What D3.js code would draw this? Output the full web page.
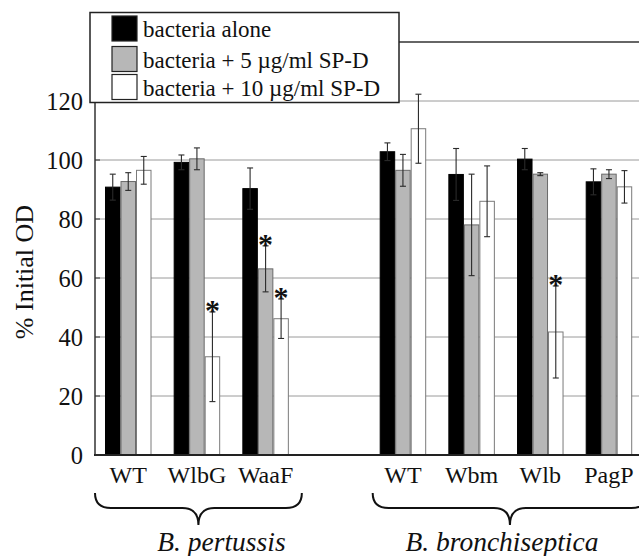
<!DOCTYPE html>
<html>
<head>
<meta charset="utf-8">
<script src="https://cdn.jsdelivr.net/npm/d3@7"></script>
<style>
  html, body { margin: 0; padding: 0; background: #fff; overflow: hidden; }
  svg { display: block; }
</style>
</head>
<body>
<svg id="chart" width="639" height="556" font-family="Liberation Serif"></svg>
<script>
// ---- data ----
const categories = ["WT", "WlbG", "WaaF", "WT", "Wbm", "Wlb", "PagP"];
const speciesOf  = [0, 0, 0, 1, 1, 1, 1];
const species    = ["B. pertussis", "B. bronchiseptica"];
const seriesNames = ["bacteria alone", "bacteria + 5 \u00b5g/ml SP-D", "bacteria + 10 \u00b5g/ml SP-D"];
const alone  = [90.8, 99.2, 90.3, 102.8, 95.1, 100.3, 92.6];
const sp5    = [92.7, 100.4, 63.1, 96.5, 78.0, 95.2, 95.2];
const sp10   = [96.5, 33.3, 46.2, 110.6, 86.0, 41.7, 90.9];
const errAlone = [4.4, 2.5, 7.0, 3.0, 8.8, 3.6, 4.4];
const err5     = [3.0, 3.7, 7.8, 5.4, 17.2, 0.5, 1.5];
const err10    = [4.7, 15.2, 6.7, 11.7, 12.0, 15.6, 5.5];
const sig5  = [0, 0, 1, 0, 0, 0, 0];
const sig10 = [0, 1, 1, 0, 0, 1, 0];
const yTicks = [0, 20, 40, 60, 80, 100, 120];
const yMax = 140;

// ---- styles ----
const fills   = ["#000000", "#b7b7b7", "#ffffff"];
const strokes = ["#000000", "#6a6a6a", "#7a7a7a"];
const FONT = "Liberation Serif";

const svg = d3.select("#chart");
const pL = 95, pT = 42, pB = 455, pR = 642.2;

// slot keys with a gap between species
const slotKeys = [];
const catKey = [];
categories.forEach((c, i) => {
  if (i > 0 && speciesOf[i] !== speciesOf[i - 1]) slotKeys.push("gap" + i);
  const k = "c" + i;
  slotKeys.push(k);
  catKey.push(k);
});

const x = d3.scaleBand().domain(slotKeys).range([pL, pR])
  .paddingInner(0.3228).paddingOuter(0.1456);
const xs = d3.scaleBand().domain([0, 1, 2]).range([0, x.bandwidth()]).padding(0);
const y = d3.scaleLinear().domain([0, yMax]).range([pB, pT]);

// grid lines
svg.append("g").selectAll("line").data(yTicks.filter(t => t > 0)).join("line")
  .attr("x1", pL).attr("x2", pR + 10)
  .attr("y1", d => y(d)).attr("y2", d => y(d))
  .attr("stroke", "#9a9a9a").attr("stroke-width", 1);

// top border
svg.append("line").attr("x1", pL).attr("x2", pR + 10)
  .attr("y1", y(yMax)).attr("y2", y(yMax))
  .attr("stroke", "#333").attr("stroke-width", 1.5);

// bars
const series = [alone, sp5, sp10];
const errs = [errAlone, err5, err10];
const sigs = [sig5, sig10];
const barData = [];
categories.forEach((c, i) => {
  series.forEach((s, j) => {
    barData.push({ i, j, v: s[i], e: errs[j][i], sig: j > 0 ? sigs[j - 1][i] : 0 });
  });
});

const bx = d => x(catKey[d.i]) + xs(d.j);
svg.append("g").selectAll("rect").data(barData).join("rect")
  .attr("x", d => bx(d) + 0.5)
  .attr("y", d => y(d.v))
  .attr("width", xs.bandwidth() - 1)
  .attr("height", d => y(0) - y(d.v))
  .attr("fill", d => fills[d.j])
  .attr("stroke", d => strokes[d.j])
  .attr("stroke-width", 1);

// error bars
const eg = svg.append("g").attr("stroke", "#2a2a2a").attr("stroke-width", 1.1);
barData.forEach(d => {
  const cx = bx(d) + xs.bandwidth() / 2;
  const y1 = y(d.v + d.e), y2 = y(d.v - d.e);
  eg.append("line").attr("x1", cx).attr("x2", cx).attr("y1", y1).attr("y2", y2);
  eg.append("line").attr("x1", cx - 3).attr("x2", cx + 3).attr("y1", y1).attr("y2", y1);
  eg.append("line").attr("x1", cx - 3).attr("x2", cx + 3).attr("y1", y2).attr("y2", y2);
});

// significance asterisks
svg.append("g").selectAll("text").data(barData.filter(d => d.sig)).join("text")
  .attr("x", d => bx(d) + xs.bandwidth() / 2)
  .attr("y", d => y(d.v + d.e) + 8)
  .attr("text-anchor", "middle")
  .attr("font-family", FONT).attr("font-size", 30).attr("font-weight", "bold")
  .attr("fill", "#111")
  .text("*");

// axes lines
svg.append("line").attr("x1", pL).attr("x2", pL).attr("y1", pT).attr("y2", pB)
  .attr("stroke", "#333").attr("stroke-width", 1.5);
svg.append("line").attr("x1", pL - 1).attr("x2", pR + 10).attr("y1", pB).attr("y2", pB)
  .attr("stroke", "#222").attr("stroke-width", 2);

// y ticks (inward) and labels
const yAxis = d3.axisLeft(y).tickValues(yTicks).tickSize(0).tickPadding(12);
const ya = svg.append("g").attr("transform", `translate(${pL},0)`).call(yAxis)
  .attr("font-family", FONT).attr("font-size", 24.5);
ya.select(".domain").remove();
ya.selectAll("text").attr("fill", "#111").attr("dy", "0.34em");
svg.append("g").selectAll("line").data(yTicks).join("line")
  .attr("x1", pL).attr("x2", pL + 5).attr("y1", d => y(d)).attr("y2", d => y(d))
  .attr("stroke", "#333").attr("stroke-width", 1);

// y title
svg.append("text")
  .attr("transform", `translate(33,272) rotate(-90)`)
  .attr("text-anchor", "middle")
  .attr("font-family", FONT).attr("font-size", 26).attr("fill", "#111")
  .text("% Initial OD");

// x category labels
svg.append("g").selectAll("text").data(categories).join("text")
  .attr("x", (d, i) => x(catKey[i]) + x.bandwidth() / 2)
  .attr("y", 483)
  .attr("text-anchor", "middle")
  .attr("font-family", FONT).attr("font-size", 24).attr("fill", "#111")
  .text(d => d);

// braces and species labels
species.forEach((sp, s) => {
  const idx = categories.map((c, i) => i).filter(i => speciesOf[i] === s);
  const x0 = x(catKey[idx[0]]) - (s === 0 ? 10 : 7);
  const x1 = x(catKey[idx[idx.length - 1]]) + x.bandwidth() + (s === 0 ? 13 : 15);
  const xm = (x0 + x1) / 2;
  const y0 = 493, ym = 508, yt = 525, r = 16;
  const p = `M${x0},${y0} Q${x0},${ym} ${x0 + r},${ym} L${xm - r},${ym} Q${xm},${ym} ${xm},${yt} ` +
            `Q${xm},${ym} ${xm + r},${ym} L${x1 - r},${ym} Q${x1},${ym} ${x1},${y0}`;
  svg.append("path").attr("d", p).attr("fill", "none").attr("stroke", "#111").attr("stroke-width", 2);
  svg.append("text")
    .attr("x", xm + (s === 0 ? 23 : -8))
    .attr("y", 551)
    .attr("text-anchor", "middle")
    .attr("font-family", FONT).attr("font-size", 27.5).attr("font-style", "italic").attr("fill", "#111")
    .text(sp);
});

// legend
const lg = svg.append("g");
lg.append("rect").attr("x", 90).attr("y", 12.5).attr("width", 309).attr("height", 90)
  .attr("fill", "#fff").attr("stroke", "#222").attr("stroke-width", 1.5);
seriesNames.forEach((n, j) => {
  const ry = [16, 46.5, 74.5][j];
  lg.append("rect").attr("x", 112).attr("y", ry).attr("width", 25).attr("height", 25)
    .attr("fill", fills[j]).attr("stroke", "#222").attr("stroke-width", 1.2);
  lg.append("text").attr("x", 143).attr("y", ry + 21)
    .attr("font-family", FONT).attr("font-size", 23).attr("fill", "#111").text(n);
});
</script>
</body>
</html>
